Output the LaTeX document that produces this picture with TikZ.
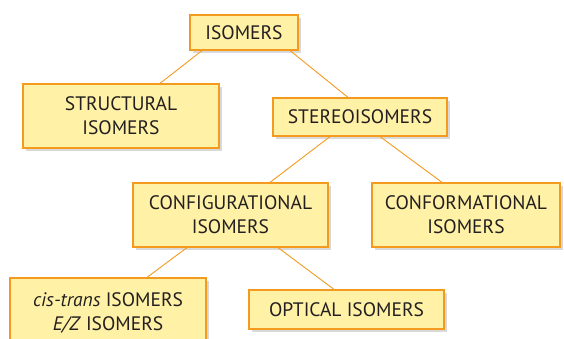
\documentclass[tikz,border=0pt]{standalone}
\usepackage{fontspec}
\setmainfont{PT Sans}
\usetikzlibrary{shadows}
\definecolor{boxfill}{HTML}{FFF1A6}
\definecolor{boxline}{HTML}{F39A1F}
\definecolor{txt}{HTML}{231F20}
\tikzset{
  concept/.style={draw=boxline, line width=1.2pt, fill=boxfill, text=txt,
    rectangle, align=center, inner sep=0pt, font=\fontsize{19.5}{24}\selectfont,
    drop shadow={shadow xshift=3pt, shadow yshift=-3pt, opacity=0.15, fill=black}},
  link/.style={draw=boxline, line width=0.9pt}
}
\begin{document}
\begin{tikzpicture}[x=1pt,y=-1pt]
\useasboundingbox (0,0) rectangle (564,339);
\node[concept, minimum width=108pt, minimum height=35pt] (iso) at (244,32.5) {ISOMERS};
\node[concept, minimum width=196pt, minimum height=64pt] (struct) at (121,116) {STRUCTURAL\\ISOMERS};
\node[concept, minimum width=174pt, minimum height=38pt] (stereo) at (360,117) {STEREOISOMERS};
\node[concept, minimum width=195pt, minimum height=64pt] (config) at (230.5,215) {CONFIGURATIONAL\\ISOMERS};
\node[concept, minimum width=188pt, minimum height=64pt] (conform) at (466,215) {CONFORMATIONAL\\ISOMERS};
\node[concept, minimum width=196pt, minimum height=69pt] (cis) at (108,312.5) {\textit{cis-trans} ISOMERS\\\textit{E/Z} ISOMERS};
\node[concept, minimum width=195pt, minimum height=39pt] (opt) at (346.5,309.5) {OPTICAL ISOMERS};
\draw[link] ([xshift=-42pt]iso.south) -- ([xshift=39pt]struct.north);
\draw[link] ([xshift=46pt]iso.south) -- ([xshift=-12pt]stereo.north);
\draw[link] ([xshift=-30pt]stereo.south) -- ([xshift=39.5pt]config.north);
\draw[link] ([xshift=20pt]stereo.south) -- ([xshift=-24pt]conform.north);
\draw[link] ([xshift=-43.5pt]config.south) -- ([xshift=39pt]cis.north);
\draw[link] ([xshift=47.5pt]config.south) -- ([xshift=-12.5pt]opt.north);
\end{tikzpicture}
\end{document}
